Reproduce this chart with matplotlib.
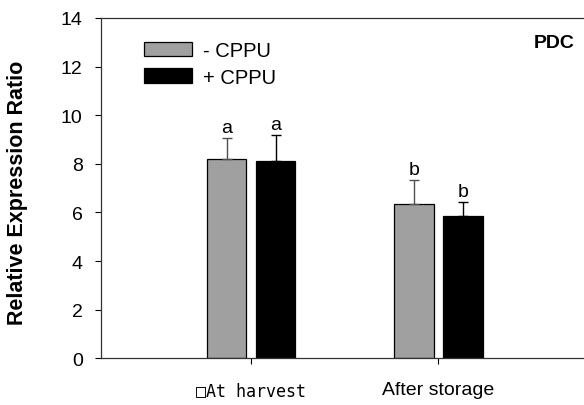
import matplotlib
matplotlib.use("Agg")
import matplotlib.pyplot as plt
import numpy as np

plt.rcParams['font.family'] = ['Liberation Sans', 'DejaVu Sans']

# Relative expression of PDC with and without CPPU treatment
stages = ["\u25a1At harvest", "After storage"]
series_labels = ["- CPPU", "+ CPPU"]
minus_cppu = [8.19, 6.34]
plus_cppu = [8.12, 5.87]
minus_err = [0.88, 1.01]
plus_err = [1.07, 0.58]
minus_letters = ["a", "b"]
plus_letters = ["a", "b"]

fig = plt.figure(figsize=(5.84, 4.06), dpi=100)
W, H = 584, 406
left_px, right_px, top_px, bottom_px = 100.7, 640, 19, 359.3
ax = fig.add_axes([left_px / W, (H - bottom_px) / H,
                   (right_px - left_px) / W, (bottom_px - top_px) / H])

x = np.arange(len(stages))
px_per_unit = 187.3
width = 39.5 / px_per_unit
offset = 24.5 / px_per_unit

b1 = ax.bar(x - offset, minus_cppu, width, color="#a0a0a0", edgecolor="black",
            linewidth=0.9, label=series_labels[0], zorder=2)
b2 = ax.bar(x + offset, plus_cppu, width, color="black", edgecolor="black",
            linewidth=0.9, label=series_labels[1], zorder=2)

ax.errorbar(x - offset, minus_cppu, yerr=[np.zeros(2), minus_err], fmt="none",
            ecolor="#505050", elinewidth=1.0, capsize=3.6, capthick=1.0, zorder=3)
ax.errorbar(x + offset, plus_cppu, yerr=[np.zeros(2), plus_err], fmt="none",
            ecolor="black", elinewidth=1.0, capsize=3.6, capthick=1.0, zorder=3)

for xi, v, e, t in zip(x - offset, minus_cppu, minus_err, minus_letters):
    ax.text(xi, v + e + 0.08, t, ha="center", va="bottom", fontsize=14)
for xi, v, e, t in zip(x + offset, plus_cppu, plus_err, plus_letters):
    ax.text(xi, v + e + 0.08, t, ha="center", va="bottom", fontsize=14)

ax.set_ylim(0, 14)
ax.set_xlim((left_px - 251) / px_per_unit, (right_px - 251) / px_per_unit)
ax.set_yticks(np.arange(0, 15, 2))
ax.set_xticks(x)
ax.set_xticklabels(stages)
ax.tick_params(axis="both", direction="out", length=4.5, width=0.8, labelsize=14,
               colors="black")
ax.tick_params(axis="y", pad=8.5)
ax.tick_params(axis="x", pad=12)
first = ax.get_xticklabels()[0]
first.set_family(["DejaVu Sans Mono", "DejaVu Sans"])
first.set_fontsize(12)

for side in ["top", "left", "bottom", "right"]:
    ax.spines[side].set_linewidth(0.9)
    ax.spines[side].set_color("#333333")

fig.text(17.5 / W, 1 - 193 / H, "Relative Expression Ratio", rotation=90,
         ha="center", va="center", fontsize=15.5, fontweight="bold")

leg = ax.legend(handles=[b1, b2], loc="upper left",
                bbox_to_anchor=((144 - left_px) / (right_px - left_px),
                                1 - (42 - top_px) / (bottom_px - top_px)),
                frameon=False, fontsize=14.5, handlelength=2.4, handleheight=0.75,
                handletextpad=0.55, labelspacing=0.38, borderaxespad=0,
                borderpad=0)

fig.text(575 / W, 1 - 43 / H, "PDC", ha="right", va="center", fontsize=14,
         fontweight="bold")

fig.savefig("out.png", dpi=100)
